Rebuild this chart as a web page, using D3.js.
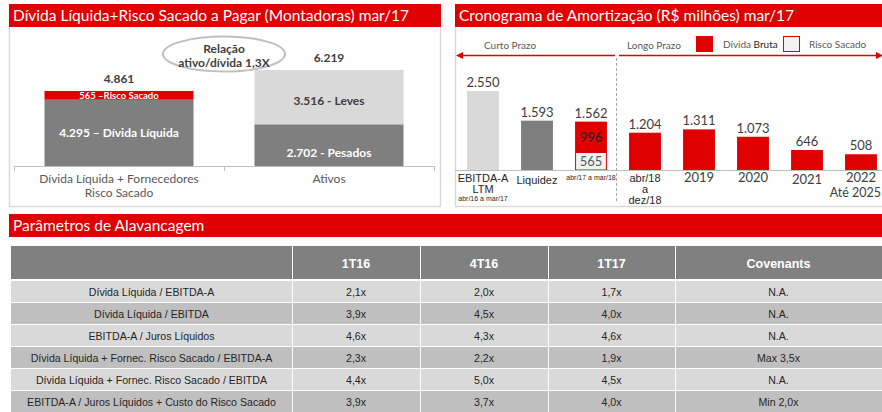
<!DOCTYPE html>
<html lang="pt">
<head>
<meta charset="utf-8">
<title>Endividamento mar/17</title>
<script src="https://d3js.org/d3.v7.min.js"></script>
<style>
  body { margin: 0; background: #fff; }
  svg text { font-family: Lato, "Open Sans", sans-serif; }
  .arial { font-family: "Liberation Sans", Arial, sans-serif !important; }
</style>
</head>
<body>
<div id="chart"></div>
<script>
// ---- dados ----
var leftCategories = [["Dívida Líquida + Fornecedores", "Risco Sacado"], ["Ativos"]];
var leftBottom = [4295, 2702];
var leftTop = [565, 3516];
var leftTotals = ["4.861", "6.219"];
var leftBottomLabels = ["4.295 – Dívida Líquida", "2.702 - Pesados"];
var leftTopLabels = ["565 –Risco Sacado", "3.516 - Leves"];

var amortCategories = ["EBITDA-A LTM", "Liquidez", "abr/17 a mar/18", "abr/18 a dez/18", "2019", "2020", "2021", "2022 Até 2025"];
var amortOther = [2550, 1593, 0, 0, 0, 0, 0, 0];
var amortRisco = [0, 0, 565, 0, 0, 0, 0, 0];
var amortBruta = [0, 0, 996, 1204, 1311, 1073, 646, 508];
var amortLabels = ["2.550", "1.593", "1.562", "1.204", "1.311", "1.073", "646", "508"];

var tableCols = ["1T16", "4T16", "1T17", "Covenants"];
var tableRows = ["Dívida Líquida / EBITDA-A", "Dívida Líquida / EBITDA", "EBITDA-A / Juros Líquidos",
  "Dívida Líquida + Fornec. Risco Sacado / EBITDA-A", "Dívida Líquida + Fornec. Risco Sacado / EBITDA",
  "EBITDA-A / Juros Líquidos + Custo do Risco Sacado"];
var t1T16 = ["2,1x", "3,9x", "4,6x", "2,3x", "4,4x", "3,9x"];
var t4T16 = ["2,0x", "4,5x", "4,3x", "2,2x", "5,0x", "3,7x"];
var t1T17 = ["1,7x", "4,0x", "4,6x", "1,9x", "4,5x", "4,0x"];
var tCovenants = ["N.A.", "N.A.", "N.A.", "Max 3,5x", "N.A.", "Min 2,0x"];

var red = "#e00000", dark = "#7f7f7f", light = "#d9d9d9", txt = "#404040";

var svg = d3.select("#chart").append("svg")
  .attr("width", 882).attr("height", 412);

function titleBar(x, y, w, label) {
  svg.append("rect").attr("x", x).attr("y", y).attr("width", w).attr("height", 23).attr("fill", red);
  svg.append("text").attr("x", x + 4).attr("y", y + 17).attr("fill", "#fff")
    .style("font-size", "15.5px").text(label);
}

// ---- painel esquerdo ----
titleBar(9, 4, 432, "Dívida Líquida+Risco Sacado a Pagar (Montadoras) mar/17");
svg.append("path").attr("d", "M9.5,27V206.5H440.5V27").attr("fill", "none").attr("stroke", light).attr("stroke-width", 1.5);

var lx = d3.scaleBand().domain(d3.range(leftCategories.length)).range([14, 434]);
var ly = d3.scaleLinear().domain([0, 6219]).range([166, 70]);
var bw = 149;
var lg = svg.append("g");
lg.selectAll(".lb").data(leftBottom).enter().append("rect")
  .attr("x", function(d, i) { return lx(i) + (lx.bandwidth() - bw) / 2; })
  .attr("y", function(d) { return ly(d); })
  .attr("width", bw).attr("height", function(d) { return ly(0) - ly(d); })
  .attr("fill", dark);
lg.selectAll(".lt").data(leftTop).enter().append("rect")
  .attr("x", function(d, i) { return lx(i) + (lx.bandwidth() - bw) / 2; })
  .attr("y", function(d, i) { return ly(d + leftBottom[i]); })
  .attr("width", bw).attr("height", function(d) { return ly(0) - ly(d); })
  .attr("fill", function(d, i) { return i == 0 ? red : light; });
lg.selectAll(".ltot").data(leftTotals).enter().append("text")
  .attr("x", function(d, i) { return lx(i) + lx.bandwidth() / 2; })
  .attr("y", function(d, i) { return ly(leftBottom[i] + leftTop[i]) - 8; })
  .attr("text-anchor", "middle").attr("fill", txt).style("font-size", "12px").style("font-weight", "bold")
  .text(function(d) { return d; });
lg.selectAll(".lbl").data(leftBottomLabels).enter().append("text")
  .attr("x", function(d, i) { return lx(i) + lx.bandwidth() / 2; })
  .attr("y", function(d, i) { return (ly(0) + ly(leftBottom[i])) / 2 + 4 + (i == 0 ? 0 : 8); })
  .attr("text-anchor", "middle").attr("fill", "#fff").style("font-size", "12px").style("font-weight", "bold")
  .text(function(d) { return d; });
lg.selectAll(".ltl").data(leftTopLabels).enter().append("text")
  .attr("x", function(d, i) { return lx(i) + lx.bandwidth() / 2; })
  .attr("y", function(d, i) { return (ly(leftBottom[i]) + ly(leftBottom[i] + leftTop[i])) / 2 + (i == 0 ? 3.5 : 8); })
  .attr("text-anchor", "middle")
  .attr("fill", function(d, i) { return i == 0 ? "#fff" : txt; })
  .style("font-size", function(d, i) { return i == 0 ? "9.5px" : "12px"; })
  .style("font-weight", "bold")
  .text(function(d) { return d; });

// eixo
svg.append("line").attr("x1", 14).attr("x2", 434).attr("y1", 166.5).attr("y2", 166.5).attr("stroke", "#bfbfbf");
[0, 1, 2].forEach(function(i) {
  var x = i < 2 ? lx(i) : 434;
  svg.append("line").attr("x1", x + 0.5).attr("x2", x + 0.5).attr("y1", 166).attr("y2", 171).attr("stroke", "#bfbfbf");
});
leftCategories.forEach(function(lines, i) {
  lines.forEach(function(s, j) {
    svg.append("text").attr("x", lx(i) + lx.bandwidth() / 2).attr("y", 183 + j * 14)
      .attr("text-anchor", "middle").attr("fill", "#595959").style("font-size", "12px").text(s);
  });
});
svg.append("ellipse").attr("cx", 224).attr("cy", 54).attr("rx", 61).attr("ry", 17.5)
  .attr("fill", "#fff").attr("stroke", "#bfbfbf").attr("stroke-width", 2);
svg.append("text").attr("x", 224).attr("y", 53).attr("text-anchor", "middle").attr("fill", txt)
  .style("font-size", "12px").style("font-weight", "bold").text("Relação");
svg.append("text").attr("x", 224).attr("y", 67).attr("text-anchor", "middle").attr("fill", txt)
  .style("font-size", "12px").style("font-weight", "bold").text("ativo/dívida 1,3X");

// ---- painel direito ----
titleBar(455, 4, 427, "Cronograma de Amortização (R$ milhões) mar/17");
svg.append("path").attr("d", "M455.5,27V206.5H882").attr("fill", "none").attr("stroke", light).attr("stroke-width", 1.5);

var rx = d3.scaleBand().domain(d3.range(amortCategories.length)).range([456, 888])
  .paddingInner(0.41).paddingOuter(0.205);
var ry = d3.scaleLinear().domain([0, 2550]).range([170, 91]);
var rg = svg.append("g");
rg.selectAll(".ro").data(amortOther).enter().append("rect")
  .attr("x", function(d, i) { return rx(i); }).attr("width", rx.bandwidth())
  .attr("y", function(d) { return ry(d); }).attr("height", function(d) { return ry(0) - ry(d); })
  .attr("fill", function(d, i) { return i == 0 ? light : dark; });
rg.selectAll(".rr").data(amortRisco).enter().filter(function(d) { return d > 0; }).append("rect")
  .attr("x", function(d, i) { return rx(2) + 0.5; }).attr("width", rx.bandwidth() - 1)
  .attr("y", function(d) { return ry(d); }).attr("height", function(d) { return ry(0) - ry(d); })
  .attr("fill", "#f2f2f2").attr("stroke", red);
rg.selectAll(".rb").data(amortBruta).enter().append("rect")
  .attr("x", function(d, i) { return rx(i); }).attr("width", rx.bandwidth())
  .attr("y", function(d, i) { return ry(d + amortRisco[i]); })
  .attr("height", function(d) { return ry(0) - ry(d); })
  .attr("fill", red);
rg.selectAll(".rl").data(amortLabels).enter().append("text")
  .attr("x", function(d, i) { return rx(i) + rx.bandwidth() / 2; })
  .attr("y", function(d, i) { return ry(amortOther[i] + amortRisco[i] + amortBruta[i]) - 4; })
  .attr("text-anchor", "middle").attr("fill", txt).style("font-size", "13px")
  .text(function(d) { return d; });
// rótulos internos da barra empilhada
svg.append("text").attr("x", rx(2) + rx.bandwidth() / 2).attr("y", (ry(amortRisco[2]) + ry(amortRisco[2] + amortBruta[2])) / 2 + 5)
  .attr("text-anchor", "middle").attr("fill", "#262626").style("font-size", "13px").text("996");
svg.append("text").attr("x", rx(2) + rx.bandwidth() / 2).attr("y", (ry(0) + ry(amortRisco[2])) / 2 + 5)
  .attr("text-anchor", "middle").attr("fill", "#595959").style("font-size", "13px").text("565");

svg.append("line").attr("x1", 455).attr("x2", 882).attr("y1", 170.5).attr("y2", 170.5).attr("stroke", "#bfbfbf");
svg.append("line").attr("x1", 616.5).attr("x2", 616.5).attr("y1", 58).attr("y2", 202)
  .attr("stroke", "#a6a6a6").attr("stroke-dasharray", "3,2");

// categorias
function cat(i, s, y, size, arial) {
  var t = svg.append("text").attr("x", rx(i) + rx.bandwidth() / 2).attr("y", y)
    .attr("text-anchor", "middle").attr("fill", "#262626").style("font-size", size + "px").text(s);
  if (arial) t.attr("class", "arial");
  return t;
}
cat(0, "EBITDA-A", 182, 11, true);
cat(0, "LTM", 193, 11, true);
cat(0, "abr/16 a mar/17", 201, 7, true);
cat(1, "Liquidez", 184, 11, true);
cat(2, "abr/17 a mar/18", 180, 7, true);
cat(3, "abr/18", 182, 11, true);
cat(3, "a", 193, 11, true);
cat(3, "dez/18", 204, 11, true);
cat(4, "2019", 182, 13, false).attr("fill", "#404040");
cat(5, "2020", 182, 13, false).attr("fill", "#404040");
cat(6, "2021", 184, 13, false).attr("fill", "#404040");
cat(7, "2022", 182, 13, false).attr("fill", "#404040");
cat(7, "Até 2025", 197, 12.5, false).attr("fill", "#404040").attr("text-anchor", "end").attr("x", 881);

// setas e legenda
svg.append("line").attr("x1", 462).attr("x2", 615).attr("y1", 55.5).attr("y2", 55.5).attr("stroke", red).attr("stroke-width", 1.3);
svg.append("path").attr("d", "M456,55.5L463,52L463,59Z").attr("fill", red);
svg.append("line").attr("x1", 619).attr("x2", 877).attr("y1", 55.5).attr("y2", 55.5).attr("stroke", red).attr("stroke-width", 1.3);
svg.append("path").attr("d", "M883,55.5L876,52L876,59Z").attr("fill", red);
svg.append("text").attr("x", 484).attr("y", 49).attr("fill", "#595959").style("font-size", "10px").text("Curto Prazo");
svg.append("text").attr("x", 627).attr("y", 49).attr("fill", "#595959").style("font-size", "10px").text("Longo Prazo");
svg.append("rect").attr("x", 696).attr("y", 36).attr("width", 17).attr("height", 16).attr("fill", red);
var lt = svg.append("text").attr("x", 723).attr("y", 48).attr("fill", "#595959").style("font-size", "10px");
lt.append("tspan").text("Dívida ");
lt.append("tspan").attr("fill", "#262626").text("Bruta");
svg.append("rect").attr("x", 783.5).attr("y", 36.5).attr("width", 16).attr("height", 15)
  .attr("fill", "#f2f2f2").attr("stroke", red).attr("stroke-width", 1);
svg.append("text").attr("x", 809).attr("y", 48).attr("fill", "#595959").style("font-size", "10px").text("Risco Sacado");

// ---- tabela ----
titleBar(9, 214, 873, "Parâmetros de Alavancagem");
var colEdges = [11, 292, 420, 548, 675, 882];
var headerY = 246, headerH = 33, rowH = 22, rowY0 = 281;
var tableData = tableRows.map(function(r, i) { return [r, t1T16[i], t4T16[i], t1T17[i], tCovenants[i]]; });
var headers = [""].concat(tableCols);
var tg = svg.append("g");
headers.forEach(function(h, c) {
  tg.append("rect").attr("x", colEdges[c] + (c ? 1 : 0)).attr("y", headerY)
    .attr("width", colEdges[c + 1] - colEdges[c] - (c ? 1 : 0)).attr("height", headerH).attr("fill", "#808080");
  if (h) tg.append("text").attr("class", "arial").attr("x", (colEdges[c] + colEdges[c + 1]) / 2).attr("y", headerY + 22)
    .attr("text-anchor", "middle").attr("fill", "#fff").style("font-size", "12.5px").style("font-weight", "bold").text(h);
});
tableData.forEach(function(row, r) {
  row.forEach(function(v, c) {
    var y = rowY0 + r * rowH;
    tg.append("rect").attr("x", colEdges[c] + (c ? 1 : 0)).attr("y", y)
      .attr("width", colEdges[c + 1] - colEdges[c] - (c ? 1 : 0)).attr("height", rowH - 1)
      .attr("fill", r % 2 ? "#bfbfbf" : "#d9d9d9");
    tg.append("text").attr("class", "arial").attr("x", (colEdges[c] + colEdges[c + 1]) / 2).attr("y", y + 14.5)
      .attr("text-anchor", "middle").attr("fill", "#262626").style("font-size", "10.6px").text(v);
  });
});
</script>
</body>
</html>
